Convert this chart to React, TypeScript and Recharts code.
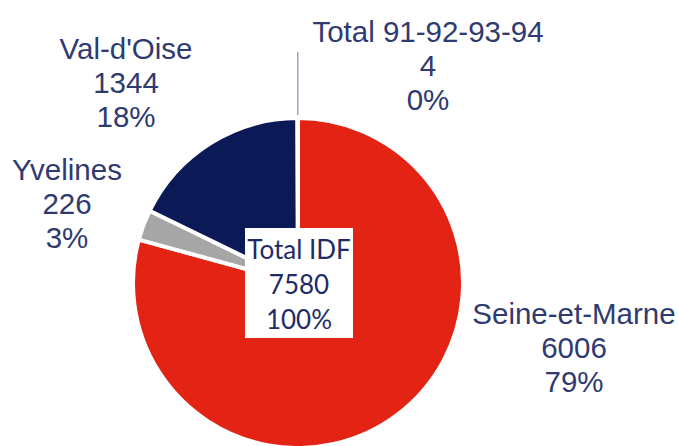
import { PieChart, Pie, Cell } from "recharts";

const departements = ["Seine-et-Marne", "Yvelines", "Val-d'Oise", "Total 91-92-93-94"];
const effectifs = [6006, 226, 1344, 4];
const couleurs = ["#E32414", "#A6A6A6", "#0B1957", "#8FA2D8"];
const totalLignes = ["Total IDF", "7580", "100%"];

// where each label sits, relative to the pie centre (middle line of the label)
const labelOffsets = [
	[276, 64],
	[-231, -80],
	[-172, -201],
	[130, -218],
];

const data = departements.map((nom, i) => ({ nom, valeur: effectifs[i] }));

const textColor = "#2F3B70";
const lineGap = 34;

function renderLabel(props: any) {
	const { cx, cy, midAngle, outerRadius, percent, index, value } = props;
	const [dx, dy] = labelOffsets[index];
	const x = cx + dx;
	const y = cy + dy;
	const lines = [departements[index], String(value), `${Math.round(percent * 100)}%`];
	const rad = (Math.PI / 180) * midAngle;

	return (
		<g>
			{index === 3 && (
				<line
					x1={cx + (outerRadius + 3) * Math.cos(rad)}
					y1={cy - (outerRadius + 3) * Math.sin(rad)}
					x2={cx + (outerRadius + 3) * Math.cos(rad)}
					y2={cy - 231}
					stroke="#8FA2D8"
					strokeWidth={1.5}
				/>
			)}
			{lines.map((l, i) => (
				<text
					key={i}
					x={x}
					y={y + (i - 1) * lineGap}
					textAnchor="middle"
					dominantBaseline="central"
					fill={textColor}
					fontSize={29.5}
					fontFamily="'Liberation Sans', Arial, sans-serif"
				>
					{l}
				</text>
			))}
			{index === 0 && (
				<g>
					<rect x={cx - 53} y={cy - 55} width={108} height={110} fill="#fff" />
					{totalLignes.map((l, i) => (
						<text
							key={i}
							x={cx + 1}
							y={cy + 1 + (i - 1) * 35}
							textAnchor="middle"
							dominantBaseline="central"
							fill="#1F2B66"
							fontSize={26}
							fontFamily="Lato, 'Noto Sans', sans-serif"
						>
							{l}
						</text>
					))}
				</g>
			)}
		</g>
	);
}

export default function App() {
	return (
		<div style={{ position: "absolute", left: 0, top: 0, background: "#fff" }}>
			<PieChart width={679} height={446} margin={{ top: 0, right: 0, bottom: 0, left: 0 }}>
				<Pie
					data={data}
					dataKey="valeur"
					nameKey="nom"
					cx={298}
					cy={283}
					outerRadius={165}
					startAngle={90}
					endAngle={-270}
					stroke="#fff"
					strokeWidth={4}
					label={renderLabel}
					labelLine={false}
					isAnimationActive={false}
				>
					{data.map((d, i) => (
						<Cell key={d.nom} fill={couleurs[i]} />
					))}
				</Pie>
			</PieChart>
		</div>
	);
}
